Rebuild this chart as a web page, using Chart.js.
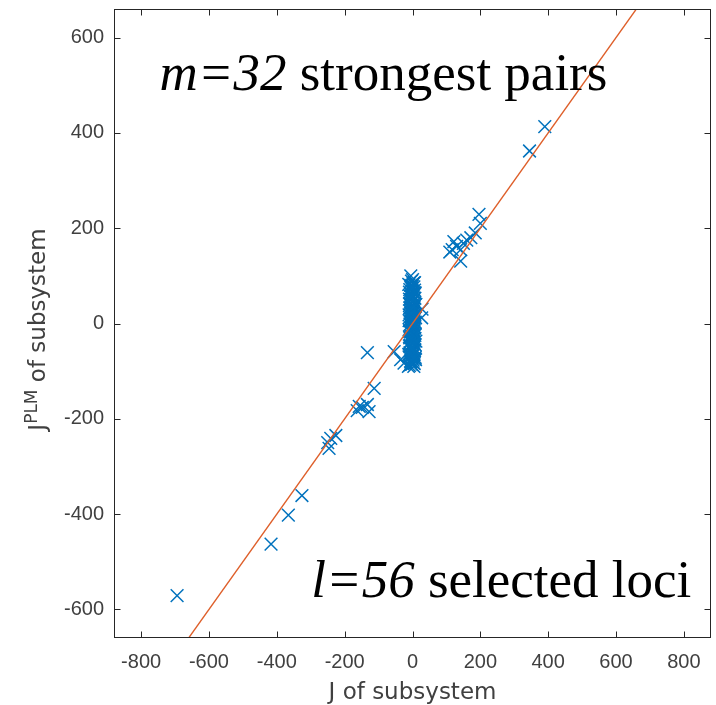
<!DOCTYPE html>
<html><head><meta charset="utf-8">
<script src="https://cdn.jsdelivr.net/npm/chart.js@4"></script>
<style>html,body{margin:0;padding:0;background:#fff}#wrap{width:716px;height:705px}</style>
</head><body><div id="wrap"><canvas id="c" width="716" height="705"></canvas></div>
<script>
// tick labels
const xTicks = [-800, -600, -400, -200, 0, 200, 400, 600, 800];
const yTicks = [-600, -400, -200, 0, 200, 400, 600];

// strong / outlying pairs (J of subsystem, J^PLM)
const pairX = [390, 345, 196, 200, 117, 122, 142, 142, 130, 150, 160, 172, 185, 110,
  28, 27, -12, 4, -25, -35, -54, -133, -113, -157, -133, -128, -163, -148, -241, -226,
  -250, -246, -326, -366, -417, -694];
const pairY = [413, 362, 229, 210, 155, 172, 155, 131, 162, 168, 175, 180, 190, 150,
  30, 12, -90, -90, -83, -76, -59, -61, -136, -174, -170, -185, -183, -176, -241, -235,
  -250, -262, -361, -402, -463, -571];

// dense cluster of weak pairs near J = 0
const clusterX = [-9, -2, 5, -6, 2, 7, -10, -3, 4, -7,
  0, 6, -4, 3, -9, 8, -1, -6, 5, 2,
  -8, -3, 7, 0, -5, 4, -10, 1, 6, -2,
  -7, 3, 8, -4, 0, 5, -9, -1, 7, -6,
  2, -3, 4, -8, 1, 6, -5, -1, 3, -9,
  7, -3, 2, -6, 5, 0, -8, -2, 4, -5,
  1, 6, -3, 0, -5,
  3, -5, 8, -1, -8, 4, 0, -4, 6, -7,
  2, -2, 7, -9, 1, 5, -3, -6, 3, 8,
  -1, -10, 4, -4, 6, 0, -7, 2, -2, 5,
  -8, 7, -5, 1, 3, -3, 6, -9, 0, 4,
  -4, 9, -11, 2, -6, 10, -1, -8, 6, -3,
  9, -10, 3, -5, 10, 0, -7, 8, -2, -11];
const clusterY = [-88, -86, -84, -79, -77, -74, -70, -68, -66, -61,
  -59, -57, -52, -50, -47, -45, -42, -38, -36, -33,
  -30, -27, -25, -22, -18, -16, -13, -10, -8, -5,
  -2, 0, 3, 5, 8, 11, 13, 16, 19, 22,
  24, 28, 31, 33, 36, 39, 42, 45, 48, 51,
  53, 56, 59, 62, 65, 68, 71, 74, 77, 80,
  83, 86, 89, 92, 100,
  -82, -81, -71, -73, -64, -63, -55, -54, -44, -49,
  -40, -35, -31, -28, -21, -20, -12, -9, -3, 1,
  -6, 6, 9, 14, 15, 20, 26, 27, 34, 35,
  41, 44, 50, 55, 58, 61, 70, 66, 79, 85,
  -85, -76, -65, -58, -46, -37, -29, -17, -7, 4,
  12, 18, 25, 32, 40, 47, 57, 64, 73, 82];

// fitted line
const fitX = [-700, 700];
const fitY = [-700, 700];

const scatterPts = pairX.map((v, i) => ({x: v, y: pairY[i]}))
  .concat(clusterX.map((v, i) => ({x: v, y: clusterY[i]})));
const linePts = fitX.map((v, i) => ({x: v, y: fitY[i]}));

const AX = '#262626';
const TXT = '#404040';
const SANS = '"Liberation Sans", Arial, sans-serif';
const LSANS = '"DejaVu Sans", sans-serif';
const SERIF = '"Liberation Serif", "Times New Roman", serif';

function drawRuns(ctx, x, y, runs, align) {
  let w = 0;
  runs.forEach(r => { ctx.font = r.f; w += ctx.measureText(r.t).width; });
  let cx = align === 'right' ? x - w : (align === 'center' ? x - w / 2 : x);
  runs.forEach(r => {
    ctx.font = r.f;
    ctx.fillText(r.t, cx, y - (r.dy || 0));
    cx += ctx.measureText(r.t).width;
  });
}

const framePlugin = {
  id: 'frame',
  afterDraw(chart) {
    const {ctx, chartArea: a, scales: {x, y}} = chart;
    ctx.save();
    ctx.strokeStyle = AX;
    ctx.lineWidth = 1;
    const l = Math.round(a.left) + 0.5, t = Math.round(a.top) + 0.5;
    const r = Math.round(a.right) - 0.5, b = Math.round(a.bottom) - 0.5;
    ctx.strokeRect(l, t, r - l, b - t);
    ctx.beginPath();
    const L = 6;
    xTicks.forEach(v => {
      const p = Math.round(x.getPixelForValue(v)) + 0.5;
      ctx.moveTo(p, b); ctx.lineTo(p, b - L);
      ctx.moveTo(p, t); ctx.lineTo(p, t + L);
    });
    yTicks.forEach(v => {
      const p = Math.round(y.getPixelForValue(v)) + 0.5;
      ctx.moveTo(l, p); ctx.lineTo(l + L, p);
      ctx.moveTo(r, p); ctx.lineTo(r - L, p);
    });
    ctx.stroke();

    // axis titles
    ctx.fillStyle = TXT;
    ctx.textBaseline = 'alphabetic';
    drawRuns(ctx, (a.left + a.right) / 2, 699, [{t: 'J of subsystem', f: '23px ' + LSANS}], 'center');
    ctx.save();
    ctx.translate(45, (a.top + a.bottom) / 2 + 6);
    ctx.rotate(-Math.PI / 2);
    drawRuns(ctx, 0, 0, [
      {t: 'J', f: '23px ' + LSANS},
      {t: 'PLM', f: '17px ' + LSANS, dy: 8},
      {t: ' of subsystem', f: '23px ' + LSANS}
    ], 'center');
    ctx.restore();

    // annotations
    ctx.fillStyle = '#000';
    drawRuns(ctx, x.getPixelForValue(-746), y.getPixelForValue(490), [
      {t: 'm=32', f: 'italic 53px ' + SERIF},
      {t: ' strongest pairs', f: '53px ' + SERIF}
    ], 'left');
    drawRuns(ctx, x.getPixelForValue(822), y.getPixelForValue(-574), [
      {t: 'l=56', f: 'italic 53px ' + SERIF},
      {t: ' selected loci', f: '53px ' + SERIF}
    ], 'right');
    ctx.restore();
  }
};

function zeroPad(s) { s.paddingLeft = 0; s.paddingRight = 0; s.paddingTop = 0; s.paddingBottom = 0; }

new Chart(document.getElementById('c'), {
  type: 'scatter',
  data: {
    datasets: [
      {
        type: 'line', data: linePts, borderColor: '#DE5F2A', borderWidth: 1.4,
        pointRadius: 0, showLine: true, fill: false, order: 0
      },
      {
        type: 'scatter', data: scatterPts, pointStyle: 'crossRot', pointRadius: 9,
        borderColor: '#0072BD', backgroundColor: '#0072BD', pointBorderWidth: 1.5,
        borderWidth: 1.5, order: 1
      }
    ]
  },
  options: {
    responsive: false,
    animation: false,
    devicePixelRatio: 1,
    layout: {autoPadding: false, padding: {top: 9, right: 5, left: 0, bottom: 0}},
    plugins: {legend: {display: false}, tooltip: {enabled: false}},
    scales: {
      x: {
        type: 'linear', min: -880, max: 880,
        afterBuildTicks: s => { s.ticks = xTicks.map(v => ({value: v})); },
        afterFit: s => { s.height = 67; zeroPad(s); },
        grid: {display: false, drawTicks: false}, border: {display: false},
        ticks: {font: {family: SANS, size: 20}, color: TXT, padding: 12, maxRotation: 0, autoSkip: false}
      },
      y: {
        type: 'linear', min: -660, max: 660,
        afterBuildTicks: s => { s.ticks = yTicks.map(v => ({value: v})); },
        afterFit: s => { s.width = 114; zeroPad(s); },
        grid: {display: false, drawTicks: false}, border: {display: false},
        ticks: {font: {family: SANS, size: 20}, color: TXT, padding: 10, autoSkip: false}
      }
    }
  },
  plugins: [framePlugin]
});
</script>
</body></html>
